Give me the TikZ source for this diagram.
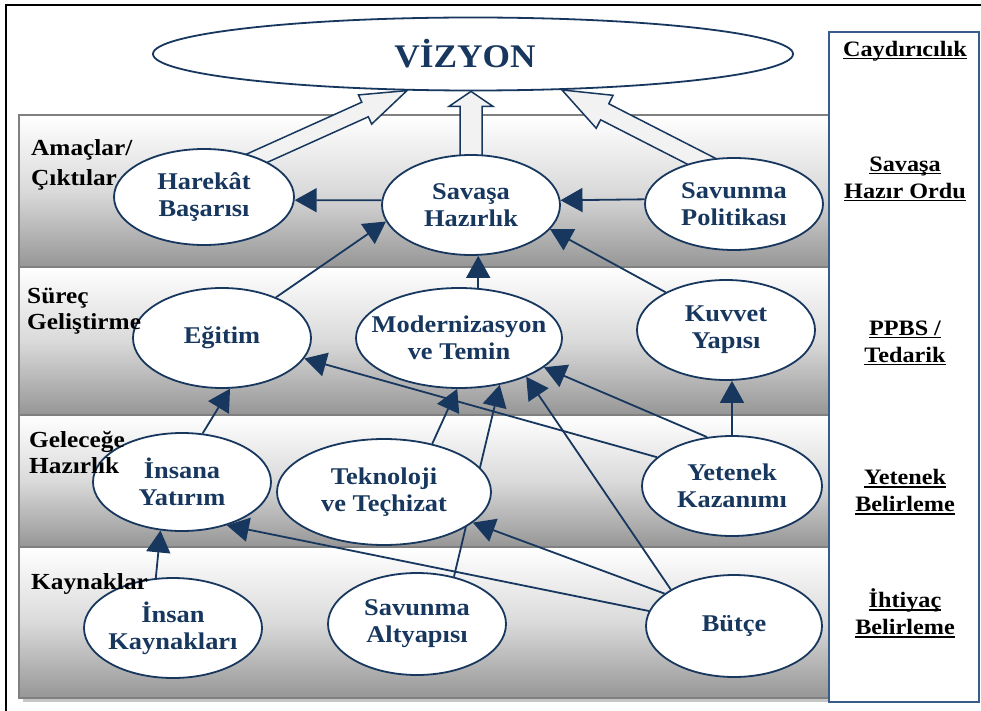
\documentclass[tikz,border=0pt]{standalone}
\usepackage{fontspec}
\setmainfont{Liberation Serif}
\newfontfamily\wideserif[FakeStretch=1.1]{Liberation Serif}
\newfontfamily\vizfont[FakeStretch=1.07]{Liberation Serif}
\usetikzlibrary{calc,arrows.meta,shapes.geometric}
\pgfdeclarelayer{bands}
\pgfdeclarelayer{links}
\pgfsetlayers{bands,links,main}
\definecolor{navy}{RGB}{23,55,94}
\definecolor{hollowfill}{RGB}{242,242,242}
\definecolor{bandline}{RGB}{128,128,128}
\definecolor{bandbottom}{RGB}{150,150,150}
\definecolor{bandmid}{RGB}{218,218,218}
\definecolor{boxline}{RGB}{56,93,138}
\newcommand\myul[1]{\setbox0\hbox{#1}\rlap{\rule[-3.2pt]{\wd0}{1.6pt}}\box0}
\newcommand\hollowarrow[5]{%
  \coordinate (haA) at (#1);
  \coordinate (haB) at (#2);
  \coordinate (haC) at ($(haB)!#5!(haA)$);
  \draw[bigarrow] ($(haA)!#3!90:(haB)$) -- ($(haC)!#3!-90:(haA)$) -- ($(haC)!#4!-90:(haA)$) -- (haB) -- ($(haC)!#4!90:(haA)$) -- ($(haC)!#3!90:(haA)$) -- ($(haA)!#3!-90:(haB)$) -- cycle;}
\tikzset{
  bubble/.style={ellipse, draw=navy, line width=1.8pt, fill=white, inner sep=0pt},
  btext/.style={text=navy, align=center, inner sep=0pt, font=\wideserif\bfseries\fontsize{24}{27}\selectfont},
  link/.style={draw=navy, line width=1.8pt, -{Triangle[length=22pt,width=24pt]}},
  bigarrow/.style={draw=navy, line width=1.5pt, fill=hollowfill, line join=miter},
  band/.style={draw=bandline, line width=2pt, top color=white, bottom color=bandbottom, middle color=bandmid},
  bandlabel/.style={anchor=west, align=left, text=black, inner sep=0pt, font=\wideserif\bfseries\fontsize{23}{26}\selectfont},
  sidelabel/.style={align=center, text=black, inner sep=0pt, font=\wideserif\bfseries\fontsize{22}{27}\selectfont},
}
\begin{document}
\begin{tikzpicture}[x=1pt,y=-1pt]
\useasboundingbox (0,0) rectangle (981,711);
% bands
\begin{pgfonlayer}{bands}
  \fill[white] (0,0) rectangle (981,711);
  \fill[gray!45] (23,119) rectangle (833,702);
  \shade[band] (19,115) rectangle (829,267);
  \shade[band] (19,267) rectangle (829,415);
  \shade[band] (19,415) rectangle (829,547);
  \shade[band] (19,547) rectangle (829,698);
\end{pgfonlayer}
% outer frame
\draw[line width=2.5pt] (6,711) -- (6,5) -- (981,5);
% side box
\node[draw=boxline, line width=1.5pt, fill=white, minimum width=150pt, minimum height=670pt, inner sep=0pt] (side) at (904,367) {};
\node[sidelabel] (s1) at (905,51) {\myul{Caydırıcılık}};
\node[sidelabel] (s2) at (905,179) {\myul{Savaşa}\\\myul{Hazır Ordu}};
\node[sidelabel] (s3) at (905,343) {\myul{PPBS /}\\\myul{Tedarik}};
\node[sidelabel] (s4) at (905,492) {\myul{Yetenek}\\\myul{Belirleme}};
\node[sidelabel] (s5) at (905,613) {\myul{İhtiyaç}\\\myul{Belirleme}};
% vision
\node[bubble, minimum width=640pt, minimum height=73pt,
  label={[text=navy, inner sep=0pt, xshift=-8pt, font=\vizfont\bfseries\fontsize{33}{33}\selectfont]center:VİZYON}] (viz) at (473,54) {};
% ellipses
\node[bubble, minimum width=180pt, minimum height=96pt, label={[btext]center:{Harekât\\Başarısı}}] (har) at (204,197) {};
\node[bubble, minimum width=178pt, minimum height=100pt, label={[btext]center:{Savaşa\\Hazırlık}}] (sav) at (471,205) {};
\node[bubble, minimum width=178pt, minimum height=92pt, label={[btext]center:{Savunma\\Politikası}}] (pol) at (734,204) {};
\node[bubble, minimum width=178pt, minimum height=100pt, label={[btext]center:{Eğitim}}] (egi) at (222,338) {};
\node[bubble, minimum width=206pt, minimum height=100pt, label={[btext]center:{Modernizasyon\\ve Temin}}] (mod) at (459,338) {};
\node[bubble, minimum width=178pt, minimum height=100pt, label={[btext]center:{Kuvvet\\Yapısı}}] (kuv) at (726,330) {};
\node[bubble, minimum width=178pt, minimum height=98pt, label={[btext]center:{İnsana\\Yatırım}}] (ins) at (182,482) {};
\node[bubble, minimum width=214pt, minimum height=106pt, label={[btext]center:{Teknoloji\\ve Teçhizat}}] (tek) at (384,492) {};
\node[bubble, minimum width=180pt, minimum height=100pt, label={[btext]center:{Yetenek\\Kazanımı}}] (yet) at (732,486) {};
\node[bubble, minimum width=178pt, minimum height=100pt, label={[btext]center:{İnsan\\Kaynakları}}] (ika) at (173,628) {};
\node[bubble, minimum width=178pt, minimum height=102pt, label={[btext]center:{Savunma\\Altyapısı}}] (alt) at (417,624) {};
\node[bubble, minimum width=176pt, minimum height=102pt, label={[btext]center:{Bütçe}}] (but) at (734,626) {};
% connectors
\begin{pgfonlayer}{links}
  \hollowarrow{$(har.36)!-14pt!(viz.209)$}{viz.209}{8pt}{16pt}{46pt}
  \hollowarrow{$(sav.north)+(0,10)$}{sav.north |- viz.south}{11pt}{22pt}{15pt}
  \hollowarrow{$(pol.128)!-14pt!(viz.-22)$}{viz.-22}{9pt}{18.5pt}{48pt}
  \draw[link] (sav.177) -- (har.-2);
  \draw[link] (pol.177) -- (sav.3);
  \draw[link] (egi.37) -- (sav.191);
  \draw[link] (mod.69) -- (mod.69 |- sav.south);
  \draw[link] (kuv.148) -- (sav.-17);
  \draw[link] (ins.67) -- (egi.-81);
  \draw[link] (yet.159) -- (egi.-14);
  \draw[link] (tek.45) -- (mod.-92);
  \draw[link] (yet.north) -- (yet.north |- kuv.south);
  \draw[link] (yet.117) -- (mod.-19);
  \draw[link] (but.150) -- (mod.-30);
  \draw[link] (alt.52) -- (mod.-49);
  \draw[link] (but.155) -- (tek.-19);
  \draw[link] (but.170) -- (ins.-44);
  \draw[link] (ika.109) -- (ins.-114);
\end{pgfonlayer}
% band labels
\node[bandlabel, font=\wideserif\bfseries\fontsize{23}{30}\selectfont] (lab1) at (31,165) {Amaçlar/\\Çıktılar};
\node[bandlabel] (lab2) at (27,311) {Süreç\\Geliştirme};
\node[bandlabel] (lab3) at (29,453) {Geleceğe\\Hazırlık};
\node[bandlabel] (lab4) at (31,584) {Kaynaklar};
\end{tikzpicture}
\end{document}
